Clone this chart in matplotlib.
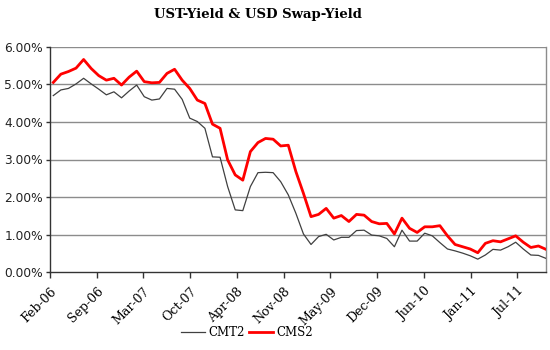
import matplotlib
matplotlib.use("Agg")
import matplotlib.pyplot as plt
import matplotlib.transforms as mtransforms
from matplotlib.ticker import FuncFormatter, FixedLocator
import numpy as np

title = "UST-Yield & USD Swap-Yield"
tick_labels = ["Feb-06", "Sep-06", "Mar-07", "Oct-07", "Apr-08", "Nov-08",
               "May-09", "Dec-09", "Jun-10", "Jan-11", "Jul-11"]

cms2 = [5.05, 5.27, 5.34, 5.43, 5.66, 5.42, 5.23, 5.11, 5.16, 4.98,
        5.19, 5.35, 5.07, 5.04, 5.05, 5.29, 5.40, 5.11, 4.89, 4.58,
        4.49, 3.94, 3.83, 2.99, 2.59, 2.45, 3.21, 3.45, 3.56, 3.54,
        3.36, 3.38, 2.68, 2.10, 1.48, 1.54, 1.70, 1.44, 1.51, 1.35,
        1.54, 1.52, 1.35, 1.29, 1.30, 1.02, 1.44, 1.17, 1.06, 1.21,
        1.21, 1.24, 0.97, 0.74, 0.68, 0.62, 0.52, 0.77, 0.84, 0.81,
        0.89, 0.97, 0.80, 0.66, 0.70, 0.61]

cmt2 = [4.70, 4.85, 4.89, 5.01, 5.16, 5.01, 4.87, 4.72, 4.80, 4.64,
        4.82, 4.98, 4.67, 4.58, 4.61, 4.89, 4.87, 4.60, 4.10, 4.01,
        3.83, 3.07, 3.06, 2.28, 1.66, 1.64, 2.28, 2.65, 2.66, 2.65,
        2.41, 2.06, 1.57, 1.02, 0.74, 0.95, 1.01, 0.86, 0.93, 0.93,
        1.11, 1.12, 0.99, 0.97, 0.90, 0.68, 1.12, 0.83, 0.83, 1.04,
        0.97, 0.79, 0.62, 0.57, 0.51, 0.44, 0.35, 0.46, 0.61, 0.59,
        0.68, 0.80, 0.62, 0.46, 0.45, 0.37]

x = np.arange(len(cms2))
tick_step = 6.166
tick_start = -0.435
tick_pos = [tick_start + i * tick_step for i in range(len(tick_labels))]

fig = plt.figure(figsize=(5.5, 3.5), dpi=100)
ax = fig.add_axes([50/550, 1-272.3/350, (546-50)/550, (272.3-46.7)/350])

grid_col = "#8c8c8c"
for yv in [1, 2, 3, 4, 5, 6]:
    ax.axhline(yv, color=grid_col, lw=1.0, zorder=1)

l1, = ax.plot(x, cmt2, color="#404040", lw=0.9, zorder=3, label="CMT2")
l2, = ax.plot(x, cms2, color="#ff0000", lw=2.0, zorder=4, label="CMS2")

ax.set_xlim(tick_start, len(cms2) - 1)
ax.set_ylim(0, 6)
ax.yaxis.set_major_locator(FixedLocator([0, 1, 2, 3, 4, 5, 6]))
ax.yaxis.set_major_formatter(FuncFormatter(lambda v, p: f"{v:.2f}%"))
ax.xaxis.set_major_locator(FixedLocator(tick_pos))
ax.set_xticklabels(tick_labels, rotation=45, ha="right", rotation_mode="anchor",
                   family="DejaVu Serif", fontsize=9)
offset = mtransforms.ScaledTranslation(-0.06, -0.04, fig.dpi_scale_trans)
for lab in ax.get_xticklabels():
    lab.set_transform(lab.get_transform() + offset)

for lab in ax.get_yticklabels():
    lab.set_family("DejaVu Sans")
    lab.set_fontsize(8.8)
    lab.set_color("#222222")

ax.tick_params(axis="y", direction="out", length=3, width=1, color="#333333", pad=2)
ax.tick_params(axis="x", direction="out", length=4, width=1, color="#333333", pad=5)

ax.spines["left"].set_color("#333333")
ax.spines["bottom"].set_color("#333333")
ax.spines["right"].set_color(grid_col)
ax.spines["top"].set_visible(False)
for s in ax.spines.values():
    s.set_linewidth(1.0)

fig.text(258/550, 0.958, title, ha="center", va="center", family="DejaVu Serif",
         fontweight="bold", fontsize=9.5)

fig.legend(handles=[l1, l2], loc="center", bbox_to_anchor=(247/550, 1-333/350),
           ncol=2, frameon=False, prop={"family": "DejaVu Serif", "size": 8.5},
           handlelength=2.0, handletextpad=0.3, columnspacing=0.4)

fig.savefig("out.png", dpi=100)
